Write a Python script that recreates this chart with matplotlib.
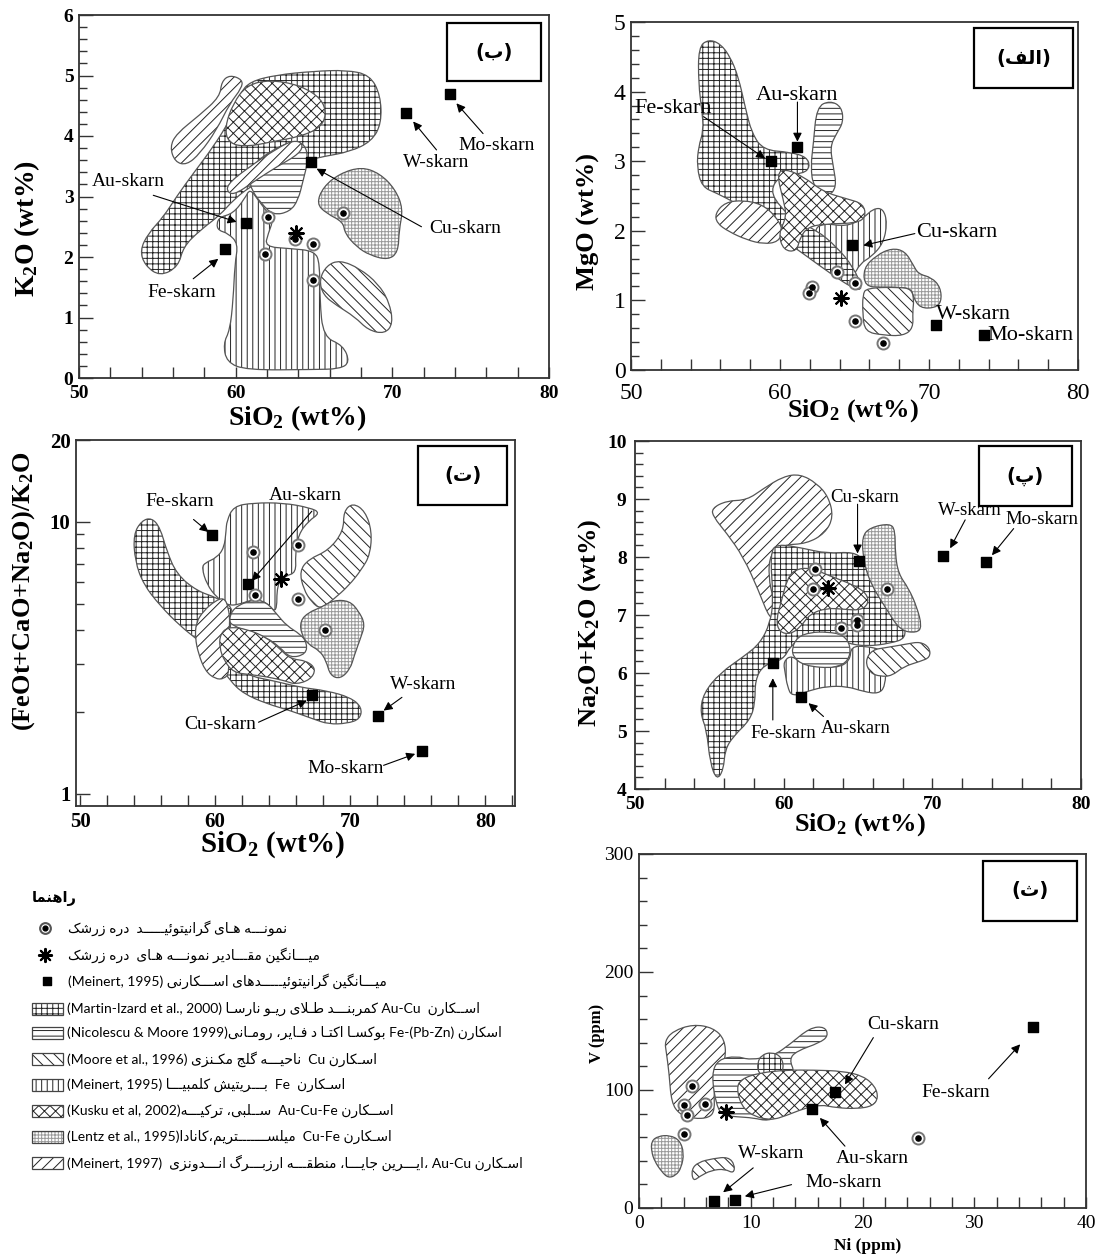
import numpy as np
import matplotlib
matplotlib.use('Agg')
import matplotlib.pyplot as plt
from matplotlib.path import Path
from matplotlib.patches import PathPatch, Rectangle
from matplotlib.ticker import FixedLocator, NullFormatter, FixedFormatter

plt.rcParams['font.family'] = ['Liberation Serif', 'DejaVu Sans']
plt.rcParams['mathtext.default'] = 'regular'
plt.rcParams['hatch.linewidth'] = 0.7

# ---------------------------------------------------------------- data
# skarn means order: Fe, Au, Cu, W, Mo
SKARN_NAMES = ['Fe-skarn', 'Au-skarn', 'Cu-skarn', 'W-skarn', 'Mo-skarn']

# ---- panel (ب)  K2O vs SiO2
B_SQ_X = [59.31, 60.63, 64.78, 70.90, 73.71]
B_SQ_Y = [2.14, 2.56, 3.57, 4.38, 4.69]
B_SMP_X = [62.08, 61.86, 63.78, 64.95, 66.86, 64.95]
B_SMP_Y = [2.66, 2.05, 2.29, 2.22, 2.73, 1.62]
B_MEAN = (63.88, 2.40)
B_MARTIN = [(55.17,1.68),(54.21,1.86),(53.89,2.11),(54.42,2.39),(55.38,2.66),(56.23,3.00),(57.29,3.38),(58.57,3.82),(59.63,4.26),(60.27,4.70),(60.91,4.90),(62.61,5.01),(64.95,5.07),(67.07,5.09),(68.56,5.01),(69.24,4.68),(69.31,4.21),(68.67,3.91),(67.29,3.74),(65.59,3.66),(64.63,3.60),(64.10,3.49),(62.40,3.38),(60.91,3.16),(59.84,2.94),(58.99,2.69),(57.72,2.44),(56.66,2.17),(56.34,1.84)]
B_MEINERT95 = [(58.78,2.55),(58.99,2.66),(59.84,2.72),(60.59,2.97),(60.91,3.13),(61.44,2.94),(62.08,2.72),(62.40,2.61),(62.08,2.39),(61.86,2.17),(63.46,2.14),(65.05,2.10),(65.37,1.89),(65.37,1.29),(65.59,0.68),(66.86,0.54),(67.29,0.26),(66.65,0.15),(64.95,0.14),(60.70,0.13),(59.42,0.26),(59.21,0.57),(59.63,0.79),(59.84,1.29),(59.95,1.89),(60.16,2.22),(59.53,2.39),(58.89,2.44)]
B_KUSKU = [(59.53,3.88),(59.31,4.15),(59.84,4.54),(60.70,4.84),(62.18,4.93),(64.10,4.84),(65.48,4.62),(65.80,4.35),(65.37,4.13),(64.10,3.99),(62.40,3.91),(60.70,3.82)]
B_NICOLESCU = [(60.91,3.27),(61.12,3.52),(61.97,3.71),(63.46,3.91),(64.42,3.88),(64.63,3.60),(64.31,3.27),(63.99,2.94),(63.46,2.75),(62.40,2.69),(61.65,2.88),(61.01,3.11)]
B_MEINERT97 = [(55.80,3.82),(56.23,4.04),(57.72,4.35),(58.99,4.65),(59.10,4.90),(59.63,5.01),(60.44,4.93),(60.38,4.79),(59.63,4.54),(58.78,4.10),(57.72,3.71),(56.87,3.52),(56.13,3.57)]
B_MEINERT97_2 = [(59.53,3.05),(59.42,3.19),(60.70,3.46),(62.61,3.79),(63.67,3.93),(64.31,3.88),(64.10,3.71),(62.61,3.49),(61.12,3.24),(60.06,3.05)]
B_LENTZ = [(65.16,2.88),(65.59,3.16),(66.65,3.38),(68.03,3.49),(69.20,3.38),(70.16,3.13),(70.69,2.80),(70.43,2.44),(70.37,2.08),(69.73,1.95),(68.56,2.03),(67.71,2.17),(66.97,2.39),(66.86,2.58),(65.80,2.72)]
B_MOORE = [(65.33,1.62),(65.80,1.86),(66.65,1.95),(67.92,1.81),(69.09,1.56),(69.80,1.26),(70.05,0.90),(69.52,0.73),(68.46,0.79),(67.61,1.01),(66.44,1.20),(65.59,1.37)]
B_TXT = [(56.55,1.42),(53.15,3.24),(74.62,2.47),(72.82,3.56),(76.64,3.84)]
B_ARR_FROM = [(57.29,1.64),(54.74,3.02),(71.86,2.50),(72.82,3.77),(75.79,4.04)]
B_ARR_TO = [(58.89,1.97),(60.06,2.58),(65.16,3.46),(71.33,4.24),(74.09,4.54)]

# ---- panel (الف)  MgO vs SiO2
A_SQ_X = [59.38, 61.17, 64.81, 70.50, 73.70]
A_SQ_Y = [3.01, 3.21, 1.79, 0.65, 0.50]
A_SMP_X = [63.80, 62.13, 61.97, 65.03, 65.03, 66.93]
A_SMP_Y = [1.41, 1.19, 1.11, 1.25, 0.71, 0.39]
A_MEAN = (64.07, 1.04)
A_MEINERT95 = [(62.24,2.01),(62.91,2.11),(64.47,2.06),(65.59,2.18),(66.26,2.32),(66.93,2.32),(67.20,2.11),(66.93,1.82),(66.15,1.63),(65.37,1.53),(64.92,1.34),(63.80,1.53),(62.91,1.77)]
A_MARTIN = [(54.53,4.64),(55.20,4.75),(55.99,4.69),(56.66,4.50),(57.21,4.21),(57.66,3.78),(58.11,3.40),(58.89,3.16),(60.68,3.13),(61.79,3.06),(62.02,2.92),(61.57,2.82),(60.01,2.80),(59.34,2.58),(60.01,2.34),(61.12,2.13),(62.46,2.01),(63.80,1.77),(64.92,1.48),(65.59,1.15),(64.92,1.17),(63.36,1.39),(61.57,1.67),(60.23,1.87),(58.67,2.20),(57.10,2.39),(55.76,2.54),(54.76,2.63),(54.42,2.92),(54.53,3.21),(54.87,3.44),(54.76,3.73),(54.53,4.11)]
A_NICOLESCU = [(62.46,3.78),(63.36,3.87),(64.14,3.78),(64.25,3.56),(63.80,3.40),(63.36,3.21),(63.58,2.92),(63.80,2.63),(63.25,2.49),(62.24,2.63),(62.06,2.92),(62.24,3.25)]
A_MEINERT97 = [(55.65,2.25),(56.32,2.41),(57.55,2.44),(58.78,2.38),(59.67,2.22),(60.23,2.01),(59.89,1.84),(58.89,1.81),(57.77,1.87),(56.54,1.99),(55.76,2.11)]
A_KUSKU = [(59.78,2.82),(60.34,2.89),(61.57,2.78),(62.91,2.56),(64.47,2.46),(65.59,2.39),(65.77,2.20),(65.14,2.11),(63.13,2.10),(61.91,2.06),(61.35,1.91),(61.12,1.70),(60.23,1.72),(59.89,1.96),(60.45,2.20),(60.23,2.44)]
A_LENTZ = [(65.59,1.46),(66.48,1.65),(67.49,1.75),(68.38,1.71),(68.94,1.51),(69.28,1.38),(70.17,1.33),(70.77,1.19),(70.84,0.98),(70.39,0.89),(69.39,0.89),(68.94,1.05),(68.83,1.16),(68.05,1.19),(66.82,1.19),(65.70,1.20)]
A_MOORE = [(65.55,1.08),(65.81,1.18),(68.05,1.19),(68.83,1.16),(68.99,1.00),(68.90,0.84),(68.94,0.60),(68.27,0.49),(66.93,0.50),(65.70,0.55),(65.55,0.81)]
A_TXT = [(52.86,3.76),(61.12,3.94),(71.85,1.98),(70.45,0.80),(73.95,0.50)]
A_ARR_FROM = [(54.87,3.64),(61.17,3.85),(69.05,1.96),None,None]
A_ARR_TO = [(59.00,3.04),(61.17,3.28),(65.59,1.79),None,None]

# ---- panel (ت)  (FeOt+CaO+Na2O)/K2O vs SiO2 (log y)
T_SQ_X = [59.80, 62.42, 67.16, 72.05, 75.31]
T_SQ_Y = [8.91, 5.89, 2.31, 1.93, 1.43]
T_SMP_X = [62.77, 66.12, 62.96, 66.12, 68.15]
T_SMP_Y = [7.74, 8.21, 5.37, 5.22, 4.01]
T_MEAN = (64.89, 6.14)
T_MARTIN = [(53.95,8.99),(54.57,10.11),(55.31,10.34),(55.93,9.51),(56.42,7.81),(57.16,6.41),(58.64,5.57),(60.12,5.26),(61.36,4.84),(61.11,4.20),(61.11,3.65),(61.36,3.08),(62.35,2.72),(64.32,2.60),(66.30,2.46),(68.27,2.39),(70.00,2.26),(70.86,2.08),(70.74,1.88),(69.75,1.81),(68.40,1.80),(67.28,1.88),(65.56,2.02),(63.83,2.14),(62.10,2.33),(61.11,2.60),(60.37,2.96),(59.88,3.31),(58.64,3.70),(57.41,4.14),(55.93,4.91),(54.69,5.89),(54.07,7.17)]
T_MEINERT95 = [(60.86,10.06),(61.36,11.41),(62.84,11.74),(65.06,11.74),(67.04,11.26),(67.78,10.79),(66.91,10.06),(66.17,8.99),(65.93,7.59),(66.00,6.50),(65.19,6.32),(64.57,5.89),(64.57,4.57),(63.83,5.05),(62.84,5.19),(61.85,4.98),(60.99,4.91),(60.12,5.26),(59.38,5.89),(59.01,6.78),(59.26,7.07),(60.12,7.38),(60.67,8.03),(60.81,9.25)]
T_NICOLESCU = [(60.99,4.32),(61.36,4.84),(62.84,5.19),(63.83,5.05),(64.57,4.57),(65.31,4.14),(66.30,3.86),(66.79,3.60),(66.74,3.26),(65.56,3.15),(64.81,3.45),(63.83,3.75),(62.35,3.97),(61.36,4.14)]
T_MEINERT97 = [(58.59,4.26),(59.14,4.70),(60.00,5.12),(60.67,5.26),(60.99,4.84),(61.11,4.20),(60.91,3.36),(61.06,2.79),(60.67,2.64),(60.00,2.64),(59.26,2.83),(58.77,3.26),(58.52,3.75)]
T_KUSKU = [(60.37,3.86),(60.99,4.11),(62.35,4.03),(63.83,3.75),(64.81,3.40),(65.56,3.13),(66.79,3.08),(67.48,2.87),(67.04,2.62),(65.93,2.52),(65.19,2.60),(63.83,2.69),(62.59,2.74),(61.36,2.79),(60.67,3.08),(60.32,3.45)]
T_MOORE = [(66.25,6.59),(66.91,7.28),(68.40,7.85),(69.51,9.25),(69.51,10.94),(70.20,11.74),(71.11,10.94),(71.60,9.25),(71.48,7.59),(70.86,6.69),(69.88,5.81),(68.77,5.19),(67.83,4.77),(67.16,5.05),(66.54,5.65)]
T_LENTZ = [(66.30,4.32),(66.91,4.64),(67.83,4.84),(68.77,5.15),(69.95,5.12),(70.62,4.70),(71.11,4.20),(70.74,3.70),(70.30,3.22),(70.00,2.87),(69.26,2.64),(68.52,2.72),(68.22,3.08),(67.73,3.36),(66.91,3.53),(66.37,3.86)]
T_TXT = [(57.41,11.84),(66.67,12.53),(60.37,1.80),(75.43,2.52),(69.63,1.235)]
T_ARR_FROM = [(58.40,10.20),(67.16,10.94),(63.21,1.83),(73.83,2.26),(72.47,1.27)]
T_ARR_TO = [(59.51,9.17),(62.72,6.06),(66.79,2.20),(72.47,2.02),(74.81,1.40)]

# ---- panel (پ)  Na2O+K2O vs SiO2
P_SQ_X = [59.31, 61.17, 65.10, 70.75, 73.63]
P_SQ_Y = [6.17, 5.59, 7.93, 8.02, 7.91]
P_SMP_X = [62.12, 61.96, 66.94, 64.96, 64.96, 63.84]
P_SMP_Y = [7.79, 7.44, 7.44, 6.91, 6.83, 6.77]
P_MEAN = (63.01, 7.46)
P_MEINERT97 = [(55.16,8.84),(56.17,8.97),(57.52,8.98),(58.64,9.18),(59.98,9.39),(61.11,9.43),(62.23,9.27),(63.01,9.04),(63.35,8.69),(62.79,8.41),(61.55,8.23),(59.98,8.21),(59.09,8.06),(58.97,7.66),(59.31,7.26),(59.65,6.97),(59.09,6.91),(58.30,7.43),(57.29,8.00),(56.17,8.41),(55.27,8.69)]
P_MARTIN = [(55.50,4.15),(55.05,4.45),(54.82,5.02),(54.38,5.31),(54.60,5.65),(55.72,6.00),(57.29,6.28),(58.41,6.51),(59.09,6.86),(59.31,7.26),(59.09,8.06),(59.54,8.23),(61.33,8.15),(62.90,8.06),(64.70,8.09),(65.37,7.95),(65.82,7.60),(66.94,7.14),(68.06,6.86),(68.24,6.60),(67.16,6.51),(65.59,6.46),(64.25,6.51),(62.68,6.69),(61.33,6.63),(60.43,6.46),(59.98,6.23),(58.64,6.14),(58.08,5.88),(58.08,5.48),(57.74,5.19),(56.62,4.91),(56.06,4.68),(55.95,4.33)]
P_LENTZ = [(65.26,8.35),(65.82,8.51),(67.16,8.58),(67.50,8.46),(67.50,8.06),(67.72,7.71),(68.40,7.46),(68.96,7.14),(69.30,6.80),(68.96,6.69),(67.84,6.73),(66.94,7.09),(65.82,7.55),(65.37,7.95)]
P_KUSKU = [(60.21,7.60),(60.70,7.78),(61.78,7.82),(63.13,7.67),(64.70,7.52),(65.59,7.37),(65.71,7.19),(65.14,7.08),(64.02,7.10),(62.90,7.12),(61.78,7.02),(61.15,6.80),(60.48,6.67),(59.72,6.70),(59.49,6.91),(59.87,7.26)]
P_NICOLESCU = [(60.55,6.43),(60.93,6.62),(61.78,6.70),(62.90,6.71),(64.02,6.66),(64.52,6.46),(64.36,6.21),(63.57,6.10),(62.45,6.07),(61.33,6.12),(60.66,6.27)]
P_MEINERT95 = [(59.98,6.20),(60.55,6.31),(61.33,6.12),(63.57,6.08),(64.47,6.21),(64.52,6.46),(65.59,6.46),(66.60,6.40),(66.89,6.17),(66.83,5.77),(66.38,5.64),(65.37,5.68),(64.25,5.77),(62.90,5.77),(61.78,5.70),(60.55,5.59),(60.25,5.77),(60.10,6.00)]
P_MOORE = [(65.48,6.20),(65.93,6.40),(66.94,6.44),(68.29,6.50),(69.18,6.54),(69.81,6.44),(69.86,6.27),(69.18,6.20),(68.06,6.11),(67.28,5.95),(66.49,5.94),(65.82,6.00)]
P_TXT = [(59.98,4.96),(64.88,5.05),(65.48,9.03),(72.55,8.80),(77.37,8.64)]
P_ARR_FROM = [(59.27,5.19),(62.68,5.25),(64.97,8.91),(72.21,8.64),(75.47,8.49)]
P_ARR_TO = [(59.27,5.91),(61.67,5.48),(64.97,8.06),(71.20,8.15),(74.01,8.03)]

# ---- panel (ث)  V vs Ni
TH_SQ_X = [35.25, 15.44, 17.54, 6.69, 8.63]
TH_SQ_Y = [153.4, 84.1, 98.5, 5.7, 6.5]
TH_SMP_X = [4.78, 4.00, 5.88, 4.30, 4.00, 24.94]
TH_SMP_Y = [103.3, 87.5, 88.0, 79.0, 62.6, 59.2]
TH_MEAN = (7.77, 81.2)
TH_MEINERT97 = [(2.30,141.5),(3.05,150.0),(4.84,155.7),(6.63,152.8),(7.68,142.9),(7.77,126.0),(6.93,111.8),(6.69,97.7),(6.78,83.5),(6.33,76.4),(4.84,75.6),(3.64,79.3),(2.90,89.2),(2.69,114.6),(2.45,131.6)]
TH_NICOLESCU = [(6.48,113.2),(7.08,126.0),(8.72,128.8),(9.92,125.4),(12.01,128.8),(13.50,138.7),(15.29,152.8),(16.64,153.7),(16.94,145.8),(16.19,140.1),(14.10,133.0),(13.44,126.0),(13.95,114.6),(13.50,97.7),(13.65,86.3),(12.76,79.3),(11.56,73.6),(10.22,76.4),(8.72,77.3),(7.53,78.4),(6.93,86.3)]
TH_MARTIN = [(10.60,123.1),(10.96,129.6),(11.86,132.2),(12.76,128.2),(12.97,117.5),(12.46,111.2),(11.41,110.4),(10.66,114.6)]
TH_KUSKU = [(8.72,101.9),(9.17,109.5),(10.81,114.6),(13.20,116.9),(15.59,116.9),(18.28,116.0),(20.07,111.8),(21.12,103.3),(21.42,93.4),(20.91,86.3),(19.48,84.1),(17.68,84.9),(16.19,87.7),(14.70,84.1),(13.20,78.4),(11.86,74.4),(10.22,77.8),(9.17,86.3)]
TH_LENTZ = [(1.11,56.6),(1.70,60.9),(2.75,61.7),(3.64,57.5),(4.03,46.7),(3.79,34.0),(3.29,27.5),(2.60,25.5),(2.00,31.1),(1.40,39.6),(1.11,48.1)]
TH_MOORE = [(4.69,32.6),(5.29,38.8),(6.63,41.9),(7.98,43.3),(8.57,36.8),(8.48,29.2),(7.68,33.1),(6.48,32.0),(5.44,26.9),(4.84,22.6)]
TH_TXT = [(28.38,97.7),(20.91,41.9),(23.66,155.1),(11.86,46.1),(18.28,21.2)]
TH_ARR_FROM = [(31.28,109.5),(18.43,52.4),(20.97,144.4),(10.22,34.0),(13.65,19.8)]
TH_ARR_TO = [(34.11,138.7),(16.19,76.4),(18.43,104.7),(7.53,13.3),(9.47,9.9)]

# ---- legend texts (Persian)
LEG_TITLE = 'راهنما'
LEG_SYMBOL_TEXT = [
    'نمونـــه هـای گرانیتوئیـــــد  دره زرشک',
    'میـــانگین مقـــادیر نمونـــه هـای  دره زرشک',
    'میـــانگین گرانیتوئیـــــدهای اســـکارنی (Meinert, 1995)',
]
FIELD_KEYS = ['MARTIN', 'NICOLESCU', 'MOORE', 'MEINERT95', 'KUSKU', 'LENTZ', 'MEINERT97']
LEG_FIELD_TEXT = [
    'اســکارن  Au-Cu کمربنـــد طـلای ریـو نارسـا (Martin-Izard et al., 2000)',
    'اسکارن Fe-(Pb-Zn) بوکسـا اکتـا د فـایر، رومـانی(Nicolescu & Moore 1999)',
    'اسـکارن Cu  ناحیـــه گلج مکـنزی (Moore et al., 1996)',
    'اسـکارن  Fe  بـــریتیش کلمبیـــا (Meinert, 1995)',
    'اســکارن Au-Cu-Fe  ســلبی، ترکیـــه(Kusku et al, 2002)',
    'اسـکارن Cu-Fe  میلســـــــتریم،کانادا(Lentz et al., 1995)',
    'اسـکارن Au-Cu ،ایـــرین جایـــا، منطقـــه ارزبـــرگ انـــدونزی  (Meinert, 1997)',
]
PANEL_TAGS = ['(ب)', '(الف)', '(ت)', '(پ)', '(ث)']

# ---------------------------------------------------------------- styles
STYLE = {
    'MARTIN':    dict(hatch='+++', hc='#222222'),
    'NICOLESCU': dict(hatch='---', hc='#222222'),
    'MOORE':     dict(hatch='\\\\\\', hc='#222222'),
    'MEINERT95': dict(hatch='|||', hc='#222222'),
    'KUSKU':     dict(hatch='xxx', hc='#222222'),
    'LENTZ':     dict(hatch='+++++', hc='#9a9a9a'),
    'MEINERT97': dict(hatch='///', hc='#222222'),
}

# ---------------------------------------------------------------- Persian shaping
AR_FORMS = {
 '\u0627': ('\uFE8D','\uFE8E',None,None), '\u0622': ('\uFE81','\uFE82',None,None),
 '\u0623': ('\uFE83','\uFE84',None,None), '\u0625': ('\uFE87','\uFE88',None,None),
 '\u0628': ('\uFE8F','\uFE90','\uFE91','\uFE92'), '\u067E': ('\uFB56','\uFB57','\uFB58','\uFB59'),
 '\u062A': ('\uFE95','\uFE96','\uFE97','\uFE98'), '\u062B': ('\uFE99','\uFE9A','\uFE9B','\uFE9C'),
 '\u062C': ('\uFE9D','\uFE9E','\uFE9F','\uFEA0'), '\u0686': ('\uFB7A','\uFB7B','\uFB7C','\uFB7D'),
 '\u062D': ('\uFEA1','\uFEA2','\uFEA3','\uFEA4'), '\u062E': ('\uFEA5','\uFEA6','\uFEA7','\uFEA8'),
 '\u062F': ('\uFEA9','\uFEAA',None,None), '\u0630': ('\uFEAB','\uFEAC',None,None),
 '\u0631': ('\uFEAD','\uFEAE',None,None), '\u0632': ('\uFEAF','\uFEB0',None,None),
 '\u0698': ('\uFB8A','\uFB8B',None,None),
 '\u0633': ('\uFEB1','\uFEB2','\uFEB3','\uFEB4'), '\u0634': ('\uFEB5','\uFEB6','\uFEB7','\uFEB8'),
 '\u0635': ('\uFEB9','\uFEBA','\uFEBB','\uFEBC'), '\u0636': ('\uFEBD','\uFEBE','\uFEBF','\uFEC0'),
 '\u0637': ('\uFEC1','\uFEC2','\uFEC3','\uFEC4'), '\u0638': ('\uFEC5','\uFEC6','\uFEC7','\uFEC8'),
 '\u0639': ('\uFEC9','\uFECA','\uFECB','\uFECC'), '\u063A': ('\uFECD','\uFECE','\uFECF','\uFED0'),
 '\u0641': ('\uFED1','\uFED2','\uFED3','\uFED4'), '\u0642': ('\uFED5','\uFED6','\uFED7','\uFED8'),
 '\u06A9': ('\uFB8E','\uFB8F','\uFB90','\uFB91'), '\u0643': ('\uFED9','\uFEDA','\uFEDB','\uFEDC'),
 '\u06AF': ('\uFB92','\uFB93','\uFB94','\uFB95'), '\u0644': ('\uFEDD','\uFEDE','\uFEDF','\uFEE0'),
 '\u0645': ('\uFEE1','\uFEE2','\uFEE3','\uFEE4'), '\u0646': ('\uFEE5','\uFEE6','\uFEE7','\uFEE8'),
 '\u0647': ('\uFEE9','\uFEEA','\uFEEB','\uFEEC'), '\u0648': ('\uFEED','\uFEEE',None,None),
 '\u06CC': ('\uFBFC','\uFBFD','\uFBFE','\uFBFF'), '\u064A': ('\uFEF1','\uFEF2','\uFEF3','\uFEF4'),
 '\u0626': ('\uFE89','\uFE8A','\uFE8B','\uFE8C'), '\u0629': ('\uFE93','\uFE94',None,None),
}
TATWEEL = '\u0640'
LAM_ALEF = {'\u0627': ('\uFEFB','\uFEFC'), '\u0622': ('\uFEF5','\uFEF6'),
            '\u0623': ('\uFEF7','\uFEF8'), '\u0625': ('\uFEF9','\uFEFA')}


def _joins_next(c):
    return c == TATWEEL or (c in AR_FORMS and AR_FORMS[c][2] is not None)


def _joins_prev(c):
    return c == TATWEEL or c in AR_FORMS


def shape(s):
    out = []
    i, n = 0, len(s)
    while i < n:
        c = s[i]
        pc = i > 0 and _joins_next(s[i - 1])
        if c == '\u0644' and i + 1 < n and s[i + 1] in LAM_ALEF:
            iso, fin = LAM_ALEF[s[i + 1]]
            out.append(fin if pc else iso)
            i += 2
            continue
        if c in AR_FORMS:
            f = AR_FORMS[c]
            nc = i + 1 < n and _joins_prev(s[i + 1]) and f[2] is not None
            if pc and nc:
                g = f[3]
            elif pc:
                g = f[1]
            elif nc:
                g = f[2]
            else:
                g = f[0]
            out.append(g)
        else:
            out.append(c)
        i += 1
    return ''.join(out)


def _is_ltr(c):
    return c.isascii() and c.isalnum()


def _is_rtl(c):
    return ('\u0600' <= c <= '\u06FF') or ('\uFB50' <= c <= '\uFEFF')


MIRROR = {'(': ')', ')': '('}


def rtl(s):
    s = shape(s)
    runs = []
    i, n = 0, len(s)
    while i < n:
        if _is_ltr(s[i]):
            j, last = i, i
            while j < n and not _is_rtl(s[j]):
                if _is_ltr(s[j]):
                    last = j
                j += 1
            seg = s[i:last + 1]
            if seg.count('(') > seg.count(')') and last + 1 < n and s[last + 1] == ')':
                seg += ')'
                last += 1
            runs.append(('L', seg))
            i = last + 1
        else:
            j = i
            while j < n and not _is_ltr(s[j]):
                j += 1
            runs.append(('R', s[i:j]))
            i = j
    out = []
    for t, seg in reversed(runs):
        if t == 'L':
            out.append(seg)
        else:
            out.append(''.join(MIRROR.get(c, c) for c in reversed(seg)))
    return ''.join(out)


# ---------------------------------------------------------------- helpers
def smooth_path(verts, logy=False):
    X = np.array([v[0] for v in verts], float)
    Y = np.array([v[1] for v in verts], float)
    if logy:
        Y = np.log10(Y)
    mx = (X + np.roll(X, -1)) / 2
    my = (Y + np.roll(Y, -1)) / 2
    pts = [(mx[-1], my[-1])]
    codes = [Path.MOVETO]
    for k in range(len(X)):
        pts += [(X[k], Y[k]), (mx[k], my[k])]
        codes += [Path.CURVE3, Path.CURVE3]
    pts.append(pts[0])
    codes.append(Path.CLOSEPOLY)
    V = np.array(pts)
    if logy:
        V[:, 1] = 10 ** V[:, 1]
    return Path(V, codes)


def draw_field(ax, verts, key, z, logy=False):
    st = STYLE[key]
    p = smooth_path(verts, logy)
    ax.add_patch(PathPatch(p, facecolor='white', edgecolor=st['hc'], hatch=st['hatch'],
                           lw=0, zorder=z))
    ax.add_patch(PathPatch(p, facecolor='none', edgecolor='#555555', lw=0.9, zorder=z + 0.01))


def draw_points(ax, sqx, sqy, smx, smy, mean, ms=45):
    ax.scatter(sqx, sqy, marker='s', s=ms, color='black', zorder=30)
    ax.scatter(smx, smy, marker='o', s=75, facecolor='white', edgecolor='#777777',
               linewidths=1.4, zorder=30)
    ax.scatter(smx, smy, marker='o', s=14, color='black', zorder=31)
    ax.scatter([mean[0]], [mean[1]], marker=(8, 2, 0), s=110, color='black',
               linewidths=1.5, zorder=31)


def draw_annot(ax, txt, afrom, ato, fs, ha_list=None):
    for k, name in enumerate(SKARN_NAMES):
        ha = 'center' if ha_list is None else ha_list[k]
        ax.text(txt[k][0], txt[k][1], name, fontsize=fs, ha=ha, va='center',
                zorder=35, family='Liberation Serif')
        if afrom[k] is not None:
            ax.annotate('', xy=ato[k], xytext=afrom[k], zorder=35,
                        arrowprops=dict(arrowstyle='-|>', lw=0.8, color='black',
                                        mutation_scale=13, shrinkA=0, shrinkB=0))


def tag_box(ax, x0, x1, y0, y1, tag, fs=14):
    ax.add_patch(Rectangle((x0, y0), x1 - x0, y1 - y0, transform=ax.transAxes,
                           facecolor='white', edgecolor='black', lw=1.6, zorder=40))
    ax.text((x0 + x1) / 2, (y0 + y1) / 2, rtl(tag), transform=ax.transAxes,
            ha='center', va='center', fontsize=fs, fontweight='bold',
            family=['DejaVu Sans'], zorder=41)


def frame(ax, xlim, ylim, xmaj, xmin, ymaj, ymin, fs, bold, xpad=5, ypad=4):
    ax.set_xlim(*xlim)
    ax.set_ylim(*ylim)
    ax.xaxis.set_major_locator(FixedLocator(xmaj))
    ax.xaxis.set_minor_locator(FixedLocator(xmin))
    ax.yaxis.set_major_locator(FixedLocator(ymaj))
    ax.yaxis.set_minor_locator(FixedLocator(ymin))
    ax.xaxis.set_major_formatter(FixedFormatter([str(v) for v in xmaj]))
    ax.yaxis.set_major_formatter(FixedFormatter([str(v) for v in ymaj]))
    ax.xaxis.set_minor_formatter(NullFormatter())
    ax.yaxis.set_minor_formatter(NullFormatter())
    ax.tick_params(which='both', direction='in', top=False, right=False, width=1.0,
                   color='#333333')
    ax.tick_params(axis='x', which='both', length=8, pad=xpad)
    ax.tick_params(axis='y', which='major', length=10, pad=ypad)
    ax.tick_params(axis='y', which='minor', length=6)
    ax.tick_params(labelsize=fs)
    for lab in ax.get_xticklabels() + ax.get_yticklabels():
        lab.set_fontweight('bold' if bold else 'normal')
        lab.set_family('Liberation Serif')
    for sp in ax.spines.values():
        sp.set_color('#333333')
        sp.set_linewidth(1.3)


W, H = 1095, 1258
fig = plt.figure(figsize=(W / 100, H / 100), dpi=100)


def axes_px(x0, x1, y0, y1):
    return fig.add_axes([x0 / W, 1 - y1 / H, (x1 - x0) / W, (y1 - y0) / H])


def ftext(x, y, s, **kw):
    fig.text(x / W, 1 - y / H, s, **kw)


LBL = dict(family='Liberation Serif', fontweight='bold', ha='center', va='center')

# ---------------- panel ب
axB = axes_px(79, 549, 15, 378)
for verts, key, z in [(B_MARTIN, 'MARTIN', 2), (B_MEINERT95, 'MEINERT95', 3), (B_KUSKU, 'KUSKU', 4),
                      (B_NICOLESCU, 'NICOLESCU', 5), (B_MEINERT97, 'MEINERT97', 6),
                      (B_MEINERT97_2, 'MEINERT97', 6.5), (B_LENTZ, 'LENTZ', 7), (B_MOORE, 'MOORE', 8)]:
    draw_field(axB, verts, key, z)
draw_points(axB, B_SQ_X, B_SQ_Y, B_SMP_X, B_SMP_Y, B_MEAN)
draw_annot(axB, B_TXT, B_ARR_FROM, B_ARR_TO, 14)
frame(axB, (50, 80), (0, 6), [50, 60, 70, 80], list(range(50, 81, 2)), list(range(0, 7)),
      list(np.round(np.arange(0, 6.01, 0.2), 2)), 14, True)
tag_box(axB, 0.783, 0.983, 0.818, 0.978, PANEL_TAGS[0])
ftext(27, 228, 'K$_2$O (wt%)', rotation=90, fontsize=20, **LBL)
ftext(297, 418, 'SiO$_2$ (wt%)', fontsize=20, **LBL)

# ---------------- panel الف
axA = axes_px(631, 1078, 22, 370)
for verts, key, z in [(A_MEINERT95, 'MEINERT95', 2), (A_MARTIN, 'MARTIN', 3), (A_NICOLESCU, 'NICOLESCU', 4),
                      (A_MEINERT97, 'MEINERT97', 5), (A_KUSKU, 'KUSKU', 6), (A_LENTZ, 'LENTZ', 7),
                      (A_MOORE, 'MOORE', 8)]:
    draw_field(axA, verts, key, z)
draw_points(axA, A_SQ_X, A_SQ_Y, A_SMP_X, A_SMP_Y, A_MEAN)
draw_annot(axA, A_TXT, A_ARR_FROM, A_ARR_TO, 16,
           ha_list=['center', 'center', 'center', 'left', 'left'])
frame(axA, (50, 80), (0, 5), [50, 60, 70, 80], list(range(50, 81, 2)), list(range(0, 6)),
      list(np.round(np.arange(0, 5.01, 0.2), 2)), 17, False, xpad=9)
tag_box(axA, 0.767, 0.989, 0.810, 0.983, PANEL_TAGS[1])
ftext(588, 221, 'MgO (wt%)', rotation=90, fontsize=19, **LBL)
ftext(853, 411, 'SiO$_2$ (wt%)', fontsize=19, **LBL)

# ---------------- panel ت
axT = axes_px(76, 515, 440, 806)
axT.set_yscale('log')
for verts, key, z in [(T_MARTIN, 'MARTIN', 2), (T_MEINERT95, 'MEINERT95', 3), (T_NICOLESCU, 'NICOLESCU', 4),
                      (T_MEINERT97, 'MEINERT97', 5), (T_KUSKU, 'KUSKU', 6), (T_MOORE, 'MOORE', 7),
                      (T_LENTZ, 'LENTZ', 8)]:
    draw_field(axT, verts, key, z, logy=True)
draw_points(axT, T_SQ_X, T_SQ_Y, T_SMP_X, T_SMP_Y, T_MEAN)
draw_annot(axT, T_TXT, T_ARR_FROM, T_ARR_TO, 14)
frame(axT, (49.7, 82.2), (0.90, 20), [50, 60, 70, 80], list(range(50, 83, 2)), [1, 10, 20],
      [2, 3, 4, 5, 6, 7, 8, 9], 15, True, xpad=4)
tag_box(axT, 0.779, 0.982, 0.822, 0.984, PANEL_TAGS[2])
ftext(24, 591, '(FeOt+CaO+Na$_2$O)/K$_2$O', rotation=90, fontsize=19, **LBL)
ftext(273, 845, 'SiO$_2$ (wt%)', fontsize=21, **LBL)

# ---------------- panel پ
axP = axes_px(635, 1081, 441, 789)
for verts, key, z in [(P_MEINERT97, 'MEINERT97', 2), (P_MARTIN, 'MARTIN', 3), (P_LENTZ, 'LENTZ', 4),
                      (P_KUSKU, 'KUSKU', 5), (P_NICOLESCU, 'NICOLESCU', 6), (P_MEINERT95, 'MEINERT95', 6.5),
                      (P_MOORE, 'MOORE', 7)]:
    draw_field(axP, verts, key, z)
draw_points(axP, P_SQ_X, P_SQ_Y, P_SMP_X, P_SMP_Y, P_MEAN)
draw_annot(axP, P_TXT, P_ARR_FROM, P_ARR_TO, 13.5)
frame(axP, (50, 80), (4, 10), [50, 60, 70, 80], list(range(50, 81, 2)), list(range(4, 11)),
      list(np.round(np.arange(4, 10.01, 0.2), 2)), 14, True, xpad=5, ypad=6)
tag_box(axP, 0.771, 0.980, 0.813, 0.986, PANEL_TAGS[3])
ftext(590, 623, 'Na$_2$O+K$_2$O (wt%)', rotation=90, fontsize=19, **LBL)
ftext(860, 825, 'SiO$_2$ (wt%)', fontsize=19, **LBL)

# ---------------- panel ث
axTH = axes_px(639, 1086, 854, 1208)
for verts, key, z in [(TH_MEINERT97, 'MEINERT97', 2), (TH_NICOLESCU, 'NICOLESCU', 3), (TH_MARTIN, 'MARTIN', 4),
                      (TH_KUSKU, 'KUSKU', 5), (TH_LENTZ, 'LENTZ', 6), (TH_MOORE, 'MOORE', 7)]:
    draw_field(axTH, verts, key, z)
draw_points(axTH, TH_SQ_X, TH_SQ_Y, TH_SMP_X, TH_SMP_Y, TH_MEAN)
draw_annot(axTH, TH_TXT, TH_ARR_FROM, TH_ARR_TO, 14)
frame(axTH, (0, 40), (0, 300), [0, 10, 20, 30, 40], list(range(0, 41, 2)), [0, 100, 200, 300],
      list(range(0, 301, 20)), 14, False)
tag_box(axTH, 0.770, 0.980, 0.811, 0.980, PANEL_TAGS[4])
ftext(597, 1033, 'V (ppm)', rotation=90, fontsize=12, **LBL)
ftext(868, 1246, 'Ni (ppm)', fontsize=12.5, **LBL)

# ---------------- legend
axL = fig.add_axes([0, 0, 1, 1], zorder=-1)
axL.set_xlim(0, W)
axL.set_ylim(H, 0)
axL.axis('off')
LFONT = ['Lato', 'DejaVu Sans']
axL.text(32, 899, rtl(LEG_TITLE), fontsize=10.5, fontweight='bold', family=['DejaVu Sans'],
         ha='left', va='center')
sym_y = [928, 955, 981]
axL.scatter([45], [sym_y[0]], marker='o', s=60, facecolor='white', edgecolor='#555555', linewidths=1.5)
axL.scatter([45], [sym_y[0]], marker='o', s=12, color='black')
axL.scatter([45], [sym_y[1]], marker=(8, 2, 0), s=90, color='black', linewidths=1.5)
axL.scatter([47], [sym_y[2]], marker='s', s=30, color='black')
for k, t in enumerate(LEG_SYMBOL_TEXT):
    axL.text(68, sym_y[k], rtl(t), fontsize=10, family=LFONT, ha='left', va='center')
row_y = [1009, 1033, 1059, 1085, 1111, 1137, 1163]
for k, key in enumerate(FIELD_KEYS):
    st = STYLE[key]
    axL.add_patch(Rectangle((32, row_y[k] - 6), 31, 12, facecolor='white',
                            edgecolor=st['hc'], hatch=st['hatch'], lw=0))
    axL.add_patch(Rectangle((32, row_y[k] - 6), 31, 12, facecolor='none',
                            edgecolor='#444444', lw=0.9))
    axL.text(67, row_y[k], rtl(LEG_FIELD_TEXT[k]), fontsize=10, family=LFONT,
             ha='left', va='center')

fig.savefig('out.png', dpi=100)
